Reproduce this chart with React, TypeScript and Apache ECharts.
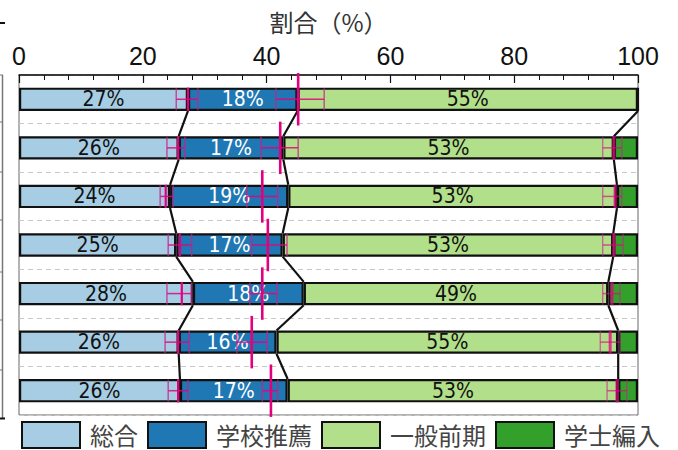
import React, { useEffect, useRef } from "react";
import * as echarts from "echarts";

const categories = ["1", "2", "3", "4", "5", "6", "7"];
const seriesNames = ["総合", "学校推薦", "一般前期", "学士編入"];
const sougou = [27.3, 25.8, 24.4, 25.4, 28.1, 25.8, 26.0];
const suisen = [17.7, 16.9, 19.1, 17.2, 17.9, 15.8, 17.4];
const ippan = [55.0, 53.4, 53.1, 53.4, 49.2, 55.2, 53.4];
const gakushi = [0, 3.9, 3.4, 4.0, 4.8, 3.2, 3.2];
const colors = ["#a6cde4", "#1f78b4", "#b2df8a", "#33a02c"];
const labelColors = ["#111", "#fff", "#111", "#111"];

// magenta reference markers (low, mid, high) at each boundary
const m1Lo = [25.4, 23.9, 22.8, 24.1, 23.9, 23.6, 24.1];
const m1Mid = [27.3, 25.7, 23.7, 26.0, 26.3, 25.7, 25.7];
const m1Hi = [28.9, 26.8, 24.9, 27.9, 27.9, 27.5, 27.3];
const m2Lo = [41.5, 39.1, 36.8, 37.6, 37.3, 35.2, 39.3];
const m2Mid = [45.1, 42.2, 39.3, 40.2, 39.3, 37.6, 40.7];
const m2Hi = [49.3, 45.1, 41.8, 43.3, 41.7, 40.1, 41.8];
const m3Lo = [null, 94.3, 94.3, 94.3, 94.3, 93.9, 95.0];
const m3Mid = [null, 96.1, 96.3, 96.1, 95.8, 95.5, 96.6];
const m3Hi = [null, 97.4, 97.4, 97.6, 97.1, 97.1, 98.2];

const xTicks = { min: 0, max: 100, interval: 20 };

const BAR_FRAC = 0.48;
const MAG = "#e3007f";

export default function App() {
  const ref = useRef<HTMLDivElement>(null);
  useEffect(() => {
    if (!ref.current) return;
    const chart = echarts.init(ref.current, null, { renderer: "svg" });
    const values = [sougou, suisen, ippan, gakushi];
    const cum1 = sougou.map((v) => v);
    const cum2 = sougou.map((v, i) => v + suisen[i]);
    const cum3 = sougou.map((v, i) => v + suisen[i] + ippan[i]);

    const barSeries = values.map((arr, k) => ({
      type: "bar",
      name: seriesNames[k],
      stack: "total",
      barWidth: BAR_FRAC * 100 + "%",
      data: arr,
      itemStyle: { color: colors[k], borderColor: "#111", borderWidth: 2.2 },
      label: {
        show: k < 3,
        position: "inside",
        formatter: (p: any) => Math.round(p.value) + "%",
        color: labelColors[k],
        fontSize: 21,
        fontFamily: "'Liberation Sans Narrow', 'DejaVu Sans Condensed', 'Liberation Sans', sans-serif",
      },
      emphasis: { disabled: true },
      z: 2,
    }));

    const connectors = {
      type: "custom",
      data: categories.map((_, i) => [50, i]),
      clip: false,
      z: 4,
      silent: true,
      renderItem: (params: any, api: any) => {
        const i = params.dataIndex;
        if (i >= categories.length - 1) return null;
        const band = api.size([0, 1])[1];
        const half = (band * BAR_FRAC) / 2;
        const children: any[] = [];
        for (const cum of [cum1, cum2, cum3]) {
          const a = api.coord([cum[i], i]);
          const b = api.coord([cum[i + 1], i + 1]);
          children.push({
            type: "line",
            shape: { x1: a[0], y1: a[1] + half, x2: b[0], y2: b[1] - half },
            style: { stroke: "#111", lineWidth: 2.2 },
          });
        }
        return { type: "group", children };
      },
    };

    const markers = {
      type: "custom",
      data: categories.map((_, i) => [50, i]),
      clip: false,
      z: 5,
      silent: true,
      renderItem: (params: any, api: any) => {
        const i = params.dataIndex;
        const band = api.size([0, 1])[1];
        const half = (band * BAR_FRAC) / 2;
        const children: any[] = [];
        const sets: any[] = [
          [m1Lo[i], m1Mid[i], m1Hi[i], half, 2.2, 1],
          [m2Lo[i], m2Mid[i], m2Hi[i], band * 0.54, 2.6, 1],
          [m3Lo[i], m3Mid[i], m3Hi[i], half, 3, 0.75],
        ];
        for (const [lo, mid, hi, h, w, op] of sets) {
          if (mid == null) continue;
          const c = api.coord([mid, i]);
          const l = api.coord([lo, i]);
          const r = api.coord([hi, i]);
          const cy = c[1];
          children.push({
            type: "line",
            shape: { x1: l[0], y1: cy, x2: r[0], y2: cy },
            style: { stroke: MAG, lineWidth: 1.5, opacity: op * 0.85 },
          });
          for (const e of [l, r]) {
            children.push({
              type: "line",
              shape: { x1: e[0], y1: cy - half * 0.95, x2: e[0], y2: cy + half * 0.95 },
              style: { stroke: "#c8208a", lineWidth: 1.3, opacity: op * 0.85 },
            });
          }
          children.push({
            type: "line",
            shape: { x1: c[0], y1: cy - h, x2: c[0], y2: cy + h },
            style: { stroke: MAG, lineWidth: w, opacity: op },
          });
        }
        return { type: "group", children };
      },
    };

    const leftLines: any[] = [];
    [75, 122, 172, 220, 272, 320, 370].forEach((y) =>
      leftLines.push({
        type: "line",
        shape: { x1: 0, y1: y, x2: 3, y2: y },
        style: { stroke: "#777", lineWidth: 1 },
      })
    );

    // legend drawn as graphic items (box + text)
    const legendItems: any[] = [];
    let lx = 22;
    const LFONT = 24;
    seriesNames.forEach((name, k) => {
      legendItems.push({
        type: "rect",
        shape: { x: lx, y: 422, width: 58, height: 26 },
        style: { fill: colors[k], stroke: "#111", lineWidth: 2 },
      });
      legendItems.push({
        type: "text",
        x: lx + 68,
        y: 434,
        style: {
          text: name,
          fontSize: LFONT,
          fill: "#444",
          verticalAlign: "middle",
          align: "left",
          fontFamily: "'Noto Sans CJK JP', sans-serif",
        },
      });
      lx += 58 + 10 + name.length * LFONT + 10;
    });

    chart.setOption({
      animation: false,
      grid: {
        left: 19,
        right: 40,
        top: 75,
        bottom: 35,
        show: true,
        borderColor: "#666",
        borderWidth: 1,
        backgroundColor: "transparent",
      },
      xAxis: {
        type: "value",
        position: "top",
        min: xTicks.min,
        max: xTicks.max,
        interval: xTicks.interval,
        name: "割合（%）",
        nameLocation: "middle",
        nameGap: 42,
        nameTextStyle: {
          fontSize: 24,
          color: "#333",
          fontFamily: "'Noto Sans CJK JP', sans-serif",
        },
        axisLine: { show: true, lineStyle: { color: "#111", width: 1.5 } },
        axisTick: { show: true, inside: true, length: 8, lineStyle: { color: "#111", width: 1.2 } },
        minorTick: { show: true, splitNumber: 5, length: 5, lineStyle: { color: "#111", width: 1 } },
        axisLabel: {
          fontSize: 25,
          color: "#111",
          margin: 7,
          fontFamily: "'Liberation Sans', Arial, sans-serif",
        },
        splitLine: { show: false },
      },
      yAxis: {
        type: "category",
        data: categories,
        inverse: true,
        axisLine: { show: false },
        axisTick: { show: false },
        axisLabel: { show: false },
        splitLine: { show: true, lineStyle: { color: "#c8c8c8", type: [5, 4], width: 1 } },
      },
      graphic: [
        ...leftLines,
        {
          type: "line",
          shape: { x1: 2.5, y1: 75, x2: 2.5, y2: 418 },
          style: { stroke: "#777", lineWidth: 1.5 },
        },
        {
          type: "line",
          shape: { x1: 0, y1: 23, x2: 5, y2: 23 },
          style: { stroke: "#111", lineWidth: 2 },
        },
        {
          type: "line",
          shape: { x1: 0, y1: 418.5, x2: 5, y2: 418.5 },
          style: { stroke: "#111", lineWidth: 2 },
        },
        ...legendItems,
      ],
      series: [...barSeries, connectors, markers],
    });
    return () => chart.dispose();
  }, []);
  return (
    <div
      ref={ref}
      style={{ position: "fixed", left: 0, top: 0, width: 678, height: 450, background: "#fff" }}
    />
  );
}
